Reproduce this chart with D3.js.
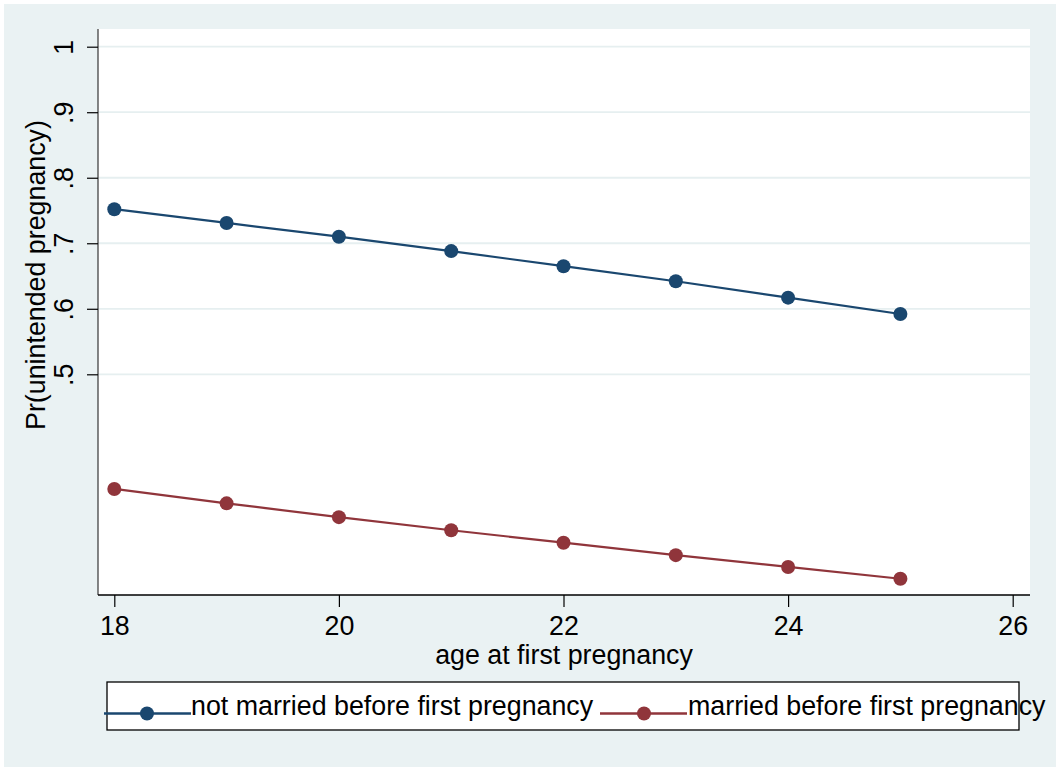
<!DOCTYPE html>
<html lang="en">
<head>
    <meta charset="UTF-8">
    <script src="https://cdn.jsdelivr.net/npm/d3@7"></script>
    <title>Pr(unintended pregnancy) by age</title>
    <style>
        body { margin: 0; background: #fff; }
        text { font-family: "Liberation Sans", Arial, sans-serif; fill: #000; }
    </style>
</head>
<body>
<svg width="1056" height="767"></svg>

<script>
    // data
    const ages = [18, 19, 20, 21, 22, 23, 24, 25];
    const notMarried = [0.752, 0.731, 0.710, 0.688, 0.665, 0.642, 0.617, 0.592];
    const married = [0.325, 0.303, 0.282, 0.262, 0.243, 0.224, 0.206, 0.188];
    const xTicks = [18, 20, 22, 24, 26];
    const yTicks = [0.5, 0.6, 0.7, 0.8, 0.9, 1];
    const seriesNames = ["not married before first pregnancy", "married before first pregnancy"];
    const colors = ["#1a476f", "#90353b"];

    const svg = d3.select("svg");
    const fontSize = 26.8;

    // graph region
    svg.append("rect")
        .attr("x", 4).attr("y", 4)
        .attr("width", 1056).attr("height", 767)
        .attr("fill", "#eaf2f3");

    const x = d3.scaleLinear().domain([18, 26]).range([114.3, 1012.7]);
    const y = d3.scaleLinear().domain([0.5, 1]).range([374.3, 46.7]);

    const pLeft = 98, pRight = 1030, pTop = 29, pBottom = 595;

    // plot region
    svg.append("rect")
        .attr("x", pLeft).attr("y", pTop)
        .attr("width", pRight - pLeft).attr("height", pBottom - pTop)
        .attr("fill", "#fff");

    // grid lines
    svg.append("g")
        .selectAll("line")
        .data(yTicks)
        .join("line")
          .attr("x1", pLeft).attr("x2", pRight)
          .attr("y1", d => y(d)).attr("y2", d => y(d))
          .attr("stroke", "#e6eff0")
          .attr("stroke-width", 1.8);

    // y axis
    const yAxis = svg.append("g")
        .attr("transform", `translate(${pLeft},0)`)
        .call(d3.axisLeft(y).tickValues(yTicks).tickSize(11).tickSizeOuter(0)
            .tickFormat(d => d === 1 ? "1" : d3.format(".1f")(d).replace(/^0/, "")));
    yAxis.select(".domain").attr("d", `M0,${pTop}V${pBottom}`).attr("stroke", "#444").attr("stroke-width", 1.3);
    yAxis.selectAll(".tick line").attr("stroke", "#000").attr("stroke-width", 1.2);
    yAxis.selectAll(".tick text")
        .attr("x", 0).attr("dy", null)
        .attr("transform", "translate(-25,0) rotate(-90)")
        .attr("text-anchor", "middle")
        .style("font-size", fontSize + "px")
        .style("font-family", "'Liberation Sans', Arial, sans-serif");

    // x axis
    const xAxis = svg.append("g")
        .attr("transform", `translate(0,${pBottom})`)
        .call(d3.axisBottom(x).tickValues(xTicks).tickSize(12).tickSizeOuter(0).tickFormat(d3.format("d")));
    xAxis.select(".domain").attr("d", `M${pLeft},0H${pRight}`).attr("stroke", "#000").attr("stroke-width", 1.3);
    xAxis.selectAll(".tick line").attr("stroke", "#000").attr("stroke-width", 1.2);
    xAxis.selectAll(".tick text")
        .attr("y", 40).attr("dy", null)
        .style("font-size", fontSize + "px")
        .style("font-family", "'Liberation Sans', Arial, sans-serif");

    // axis titles
    svg.append("text")
        .attr("x", 564).attr("y", 664)
        .attr("text-anchor", "middle")
        .style("font-size", fontSize + "px")
        .text("age at first pregnancy");

    svg.append("text")
        .attr("transform", "translate(45,275) rotate(-90)")
        .attr("text-anchor", "middle")
        .style("font-size", fontSize + "px")
        .text("Pr(unintended pregnancy)");

    // series
    const series = [notMarried, married];
    const line = d3.line().x((d, i) => x(ages[i])).y(d => y(d));

    series.forEach((vals, k) => {
        const g = svg.append("g");
        g.append("path")
            .datum(vals)
            .attr("d", line)
            .attr("fill", "none")
            .attr("stroke", colors[k])
            .attr("stroke-width", 2.2);
        g.selectAll("circle")
            .data(vals)
            .join("circle")
              .attr("cx", (d, i) => x(ages[i]))
              .attr("cy", d => y(d))
              .attr("r", 7)
              .attr("fill", colors[k]);
    });

    // legend
    svg.append("rect")
        .attr("x", 107).attr("y", 682)
        .attr("width", 912).attr("height", 48)
        .attr("fill", "#fff")
        .attr("stroke", "#000")
        .attr("stroke-width", 1.3);

    const legendItems = [
        {x0: 104, x1: 191, mx: 147, tx: 191},
        {x0: 600, x1: 687, mx: 644, tx: 688}
    ];
    legendItems.forEach((it, k) => {
        svg.append("line")
            .attr("x1", it.x0).attr("x2", it.x1)
            .attr("y1", 713.5).attr("y2", 713.5)
            .attr("stroke", colors[k])
            .attr("stroke-width", 2.4);
        svg.append("circle")
            .attr("cx", it.mx).attr("cy", 713.5)
            .attr("r", 7)
            .attr("fill", colors[k]);
        svg.append("text")
            .attr("x", it.tx).attr("y", 715)
            .style("font-size", fontSize + "px")
            .text(seriesNames[k]);
    });
</script>

</body>
</html>
